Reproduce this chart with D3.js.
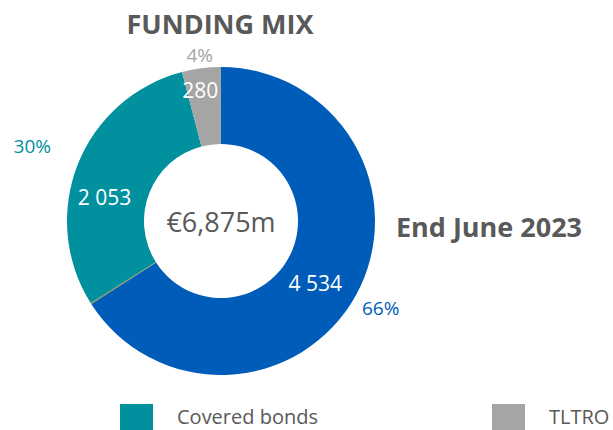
<!DOCTYPE html>
<html>
<head>
<meta charset="utf-8">
<script src="https://cdn.jsdelivr.net/npm/d3@7"></script>
<style>
  body { margin: 0; background: #fff; }
  text { font-family: "Open Sans", sans-serif; }
</style>
</head>
<body>
<div class="wrap-chart"></div>
<script>
var
  width = 613,
  height = 430,
  cx = 221,
  cy = 221,
  radius = 154,
  innerRadius = 77,
  textGrey = "#595959";

// slices, clockwise from 12 o'clock
var categories = ["Other funding", "Other", "Covered bonds", "TLTRO"];
var values = [4534, 8, 2053, 280];
var valueLabels = ["4 534", "", "2 053", "280"];
var pctLabels = ["66%", "", "30%", "4%"];
var colors = ["#005cb9", "#9a8a3c", "#00909e", "#a5a5a5"];
var legendItems = ["Covered bonds", "TLTRO"];
var totalLabel = "€6,875m";

// label layout (nudges from the arc centroid, radius of outside labels)
var labelNudge = [[-7, 7], [0, 0], [-9, 19], [-6, -16]];
var pctRadius = [182, 0, 203, 167];

var data = categories.map(function (c, i) {
  return { name: c, value: values[i], color: colors[i], label: valueLabels[i], pct: pctLabels[i], i: i };
});

var pie = d3.pie().sort(null).value(function (d) { return d.value; });

var arc = d3.arc()
  .innerRadius(innerRadius)
  .outerRadius(radius);

var svg = d3.select(".wrap-chart")
  .append("svg")
  .attr("width", width)
  .attr("height", height);

var g = svg.append("g")
  .attr("transform", "translate(" + cx + "," + cy + ")");

var slices = g.selectAll(".slice")
  .data(pie(data)).enter()
  .append("g")
  .attr("class", "slice");

slices.append("path")
  .attr("d", arc)
  .attr("fill", function (d) { return d.data.color; });

slices.filter(function (d) { return d.data.label; })
  .append("text")
  .attr("transform", function (d) {
    var c = arc.centroid(d), n = labelNudge[d.data.i];
    return "translate(" + (c[0] + n[0]) + "," + (c[1] + n[1]) + ")";
  })
  .attr("text-anchor", "middle")
  .attr("dy", "0.35em")
  .attr("fill", "#fff")
  .style("font-size", "21px")
  .text(function (d) { return d.data.label; });

slices.filter(function (d) { return d.data.pct; })
  .append("text")
  .attr("transform", function (d) {
    var a = (d.startAngle + d.endAngle) / 2, r = pctRadius[d.data.i];
    return "translate(" + (Math.sin(a) * r) + "," + (-Math.cos(a) * r) + ")";
  })
  .attr("text-anchor", "middle")
  .attr("dy", "0.35em")
  .attr("fill", function (d) { return d.data.color; })
  .style("font-size", "19px")
  .text(function (d) { return d.data.pct; });

g.append("text")
  .attr("text-anchor", "middle")
  .attr("dy", "0.35em")
  .attr("y", 2)
  .attr("fill", textGrey)
  .style("font-size", "27px")
  .text(totalLabel);

svg.append("text")
  .attr("x", 220)
  .attr("y", 34)
  .attr("text-anchor", "middle")
  .attr("fill", textGrey)
  .style("font-size", "27px")
  .style("font-weight", "bold")
  .text("FUNDING MIX");

svg.append("text")
  .attr("x", 489)
  .attr("y", 237)
  .attr("text-anchor", "middle")
  .attr("fill", textGrey)
  .style("font-size", "27px")
  .style("font-weight", "bold")
  .text("End June 2023");

var legendX = d3.scalePoint().domain(legendItems).range([120, 492]);

var legend = svg.selectAll(".legend")
  .data(legendItems).enter()
  .append("g")
  .attr("class", "legend")
  .attr("transform", function (d) { return "translate(" + legendX(d) + ",404)"; });

legend.append("rect")
  .attr("width", 33)
  .attr("height", 32)
  .attr("fill", function (d) { return colors[categories.indexOf(d)]; });

legend.append("text")
  .attr("x", 57)
  .attr("y", 20)
  .attr("fill", textGrey)
  .style("font-size", "20px")
  .text(function (d) { return d; });
</script>
</body>
</html>
